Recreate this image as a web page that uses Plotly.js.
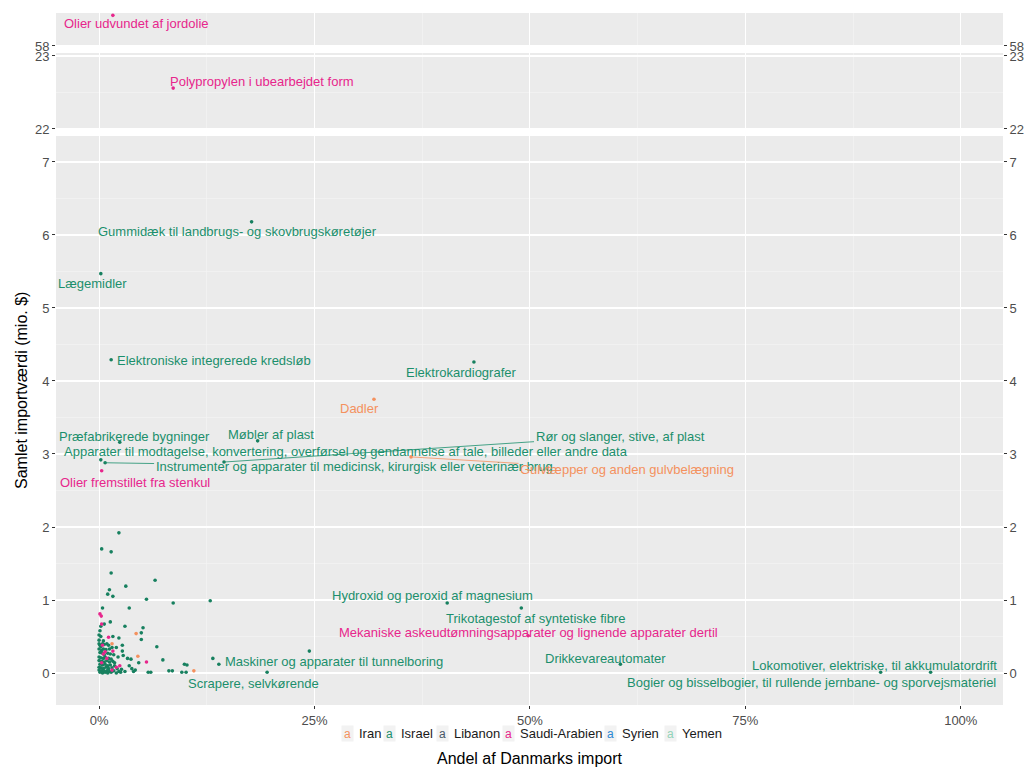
<!DOCTYPE html>
<html><head><meta charset="utf-8">
<script src="https://cdn.plot.ly/plotly-3.0.1.min.js"></script>
<style>html,body{margin:0;padding:0;background:#fff}#chart{width:1024px;height:767px}</style>
</head><body><div id="chart"></div>
<script>
// ---------- DATA ----------
const countries = ["Iran", "Israel", "Libanon", "Saudi-Arabien", "Syrien", "Yemen"];

// labelled products (share of Danish import in %, total import value in mio. $)
const labelNames = [
  "Olier udvundet af jordolie",
  "Polypropylen i ubearbejdet form",
  "Gummidæk til landbrugs- og skovbrugskøretøjer",
  "Lægemidler",
  "Elektroniske integrerede kredsløb",
  "Elektrokardiografer",
  "Dadler",
  "Præfabrikerede bygninger",
  "Møbler af plast",
  "Apparater til modtagelse, konvertering, overførsel og gendannelse af tale, billeder eller andre data",
  "Instrumenter og apparater til medicinsk, kirurgisk eller veterinær brug",
  "Rør og slanger, stive, af plast",
  "Gulvtæpper og anden gulvbelægning",
  "Olier fremstillet fra stenkul",
  "Hydroxid og peroxid af magnesium",
  "Trikotagestof af syntetiske fibre",
  "Mekaniske askeudtømningsapparater og lignende apparater dertil",
  "Maskiner og apparater til tunnelboring",
  "Scrapere, selvkørende",
  "Drikkevareautomater",
  "Lokomotiver, elektriske, til akkumulatordrift",
  "Bogier og bisselbogier, til rullende jernbane- og sporvejsmateriel"
];
const labelCountry = [
  "Saudi-Arabien", "Saudi-Arabien", "Israel", "Israel", "Israel", "Israel", "Iran",
  "Israel", "Israel", "Israel", "Israel", "Israel", "Iran", "Saudi-Arabien",
  "Israel", "Israel", "Saudi-Arabien", "Israel", "Israel", "Israel", "Israel", "Israel"
];
const labelShare = [1.6, 8.6, 17.7, 0.2, 1.4, 43.5, 31.9, 2.4, 18.4, 0.2, 0.7, 14.5, 36.2, 0.3,
  40.4, 49.0, 49.8, 13.9, 19.5, 60.5, 90.7, 96.5];
const labelValue = [58.42, 22.56, 6.18, 5.47, 4.29, 4.26, 3.75, 3.16, 3.18, 2.92, 2.88, 2.89, 2.96, 2.77,
  0.96, 0.89, 0.51, 0.12, 0.01, 0.12, 0.01, 0.01];

// unlabelled products
const iranShare = [4.3, 1.5, 4.5, 11.0];
const iranValue = [0.54, 0.40, 0.23, 0.03];

const saudiShare = [0.1, 0.25, 0.3, 1.1, 1.6, 0.7, 0.5, 5.5, 2.4, 0.3, 1.5, 0.4, 0.9, 2.0];
const saudiValue = [0.81, 0.78, 0.67, 0.49, 0.30, 0.29, 0.26, 0.15, 0.10, 0.14, 0.04, 0.38, 0.20, 0.08];

const israelShare = [
  2.3, 0.3, 1.4, 1.4, 6.5, 3.1, 1.2, 1.0, 1.6, 5.5, 12.9, 8.6, 0.4, 3.5, 1.3, 0.6, 3.0, 5.1, 4.9, 4.9,
  2.3, 1.6, 2.7, 6.7, 2.7, 3.7, 7.4, 4.6, 9.9, 10.2, 3.5, 3.8, 4.2, 5.7, 6.0, 8.1, 8.5, 9.6, 10.1, 24.4,
  13.2, 2.8, 3.3, 2.0, 2.2, 1.8, 4.0, 3.0, 2.6,
  0.0, 0.1, 0.2, 0.4, 0.6, 0.9, 1.1, 0.0, 0.3, 0.5, 0.8, 1.2, 1.5, 0.1, 0.4, 0.6, 1.0, 1.3, 1.7, 0.0,
  0.2, 0.5, 0.7, 1.1, 1.4, 0.0, 0.3, 0.6, 0.9, 1.2, 1.6, 0.1, 0.4, 0.7, 1.0, 1.3, 1.8, 0.0, 0.2, 0.5,
  0.8, 1.1, 1.5, 2.1, 0.0, 0.3, 0.6, 0.9, 1.2, 1.7, 2.3, 0.1, 0.4, 0.7, 1.0, 1.4, 2.0, 2.5, 0.2, 0.0,
  0.5, 0.2, 0.1, 0.0
];
const israelValue = [
  1.92, 1.70, 1.66, 1.37, 1.27, 1.19, 1.14, 1.08, 1.05, 1.01, 0.99, 0.96, 0.89, 0.89, 0.70, 0.67, 0.64, 0.62, 0.55, 0.46,
  0.48, 0.50, 0.38, 0.36, 0.30, 0.19, 0.18, 0.14, 0.12, 0.11, 0.10, 0.06, 0.04, 0.01, 0.01, 0.03, 0.03, 0.01, 0.01, 0.30,
  0.20, 0.24, 0.20, 0.35, 0.22, 0.14, 0.02, 0.02, 0.05,
  0.40, 0.38, 0.36, 0.40, 0.39, 0.40, 0.38, 0.33, 0.31, 0.33, 0.32, 0.33, 0.35, 0.28, 0.27, 0.25, 0.27, 0.26, 0.25, 0.22,
  0.21, 0.20, 0.22, 0.20, 0.19, 0.17, 0.16, 0.15, 0.17, 0.15, 0.16, 0.12, 0.11, 0.12, 0.10, 0.11, 0.10, 0.08, 0.07, 0.06,
  0.08, 0.06, 0.07, 0.06, 0.04, 0.03, 0.02, 0.03, 0.02, 0.03, 0.02, 0.01, 0.00, 0.01, 0.00, 0.01, 0.00, 0.01, 0.50, 0.45,
  0.44, 0.64, 0.58, 0.52
];

const xTickVals = [0, 25, 50, 75, 100];
const xTickText = ["0%", "25%", "50%", "75%", "100%"];

// ---------- STYLE ----------
const colors = {
  "Iran": "#F4915E", "Israel": "#1B8F6C", "Libanon": "#4A5868",
  "Saudi-Arabien": "#E7268C", "Syrien": "#2A88D2", "Yemen": "#93D3B8"
};
const pointColors = {
  "Iran": "#F4915E", "Israel": "#17805F", "Libanon": "#4A5868",
  "Saudi-Arabien": "#E7268C", "Syrien": "#2A88D2", "Yemen": "#93D3B8"
};
const FONT = "Liberation Sans, Arial, sans-serif";

// label offsets (pixels, screen coordinates: dx right, dy down); arrow = draw segment
const labelOffsets = {
  "Olier udvundet af jordolie": [24, 8],
  "Polypropylen i ubearbejdet form": [89, -7],
  "Gummidæk til landbrugs- og skovbrugskøretøjer": [-14, 10],
  "Lægemidler": [-8, 10],
  "Elektroniske integrerede kredsløb": [103, 1],
  "Elektrokardiografer": [-13, 10],
  "Dadler": [-14, 9],
  "Præfabrikerede bygninger": [15, -6],
  "Møbler af plast": [13, -6],
  "Apparater til modtagelse, konvertering, overførsel og gendannelse af tale, billeder eller andre data": [245, -8],
  "Instrumenter og apparater til medicinsk, kirurgisk eller veterinær brug": [249, 4, true],
  "Rør og slanger, stive, af plast": [396, -26, true],
  "Gulvtæpper og anden gulvbelægning": [216, 13, true],
  "Olier fremstillet fra stenkul": [33, 12],
  "Hydroxid og peroxid af magnesium": [-15, -7],
  "Trikotagestof af syntetiske fibre": [14, 10],
  "Mekaniske askeudtømningsapparater og lignende apparater dertil": [0, -3],
  "Maskiner og apparater til tunnelboring": [115, -3],
  "Scrapere, selvkørende": [-14, 11],
  "Drikkevareautomater": [-15, -6],
  "Lokomotiver, elektriske, til akkumulatordrift": [-6, -7],
  "Bogier og bisselbogier, til rullende jernbane- og sporvejsmateriel": [-119, 10]
};

function panelOf(v) { return v > 50 ? "y3" : (v > 10 ? "y2" : "y"); }

// ---------- TRACES ----------
const pointSets = {
  "Iran": [iranShare, iranValue],
  "Israel": [israelShare, israelValue],
  "Saudi-Arabien": [saudiShare, saudiValue]
};
const allPts = {};
countries.forEach(c => { allPts[c] = { x: [], y: [] }; });
Object.keys(pointSets).forEach(c => {
  pointSets[c][0].forEach((x, i) => { allPts[c].x.push(x); allPts[c].y.push(pointSets[c][1][i]); });
});
labelNames.forEach((n, i) => { allPts[labelCountry[i]].x.push(labelShare[i]); allPts[labelCountry[i]].y.push(labelValue[i]); });

const traces = [];
countries.forEach(c => {
  ["y", "y2", "y3"].forEach(p => {
    const xs = [], ys = [];
    allPts[c].x.forEach((x, i) => { if (panelOf(allPts[c].y[i]) === p) { xs.push(x); ys.push(allPts[c].y[i]); } });
    if (xs.length) traces.push({
      type: "scatter", mode: "markers", x: xs, y: ys, xaxis: "x", yaxis: p,
      marker: { color: pointColors[c], size: 3.6 }, showlegend: false, hoverinfo: "x+y", name: c
    });
  });
});
["y4", "y5", "y6"].forEach(a => traces.push({ type: "scatter", mode: "markers", x: [null], y: [null], yaxis: a, showlegend: false, hoverinfo: "skip" }));

// ---------- ANNOTATIONS ----------
const annotations = [];
labelNames.forEach((n, i) => {
  const off = labelOffsets[n];
  const p = panelOf(labelValue[i]);
  const base = {
    x: labelShare[i], y: labelValue[i], xref: "x", yref: p, text: n,
    font: { family: FONT, size: 13, color: colors[labelCountry[i]] }
  };
  if (off[2]) {
    Object.assign(base, { showarrow: true, ax: off[0], ay: off[1], arrowhead: 0, arrowwidth: 0.8,
      arrowcolor: colors[labelCountry[i]], standoff: 0, startstandoff: 0 });
  } else {
    Object.assign(base, { showarrow: false, xshift: off[0], yshift: -off[1] });
  }
  annotations.push(base);
});

// axis titles
annotations.push({ xref: "paper", yref: "paper", x: 0.5, y: -0.0766, text: "Andel af Danmarks import",
  showarrow: false, font: { family: FONT, size: 16, color: "#000" }, yanchor: "middle" });
annotations.push({ xref: "paper", yref: "paper", x: -0.0359, y: 0.4538, text: "Samlet importværdi (mio. $)",
  showarrow: false, textangle: -90, font: { family: FONT, size: 16, color: "#000" }, xanchor: "center", yanchor: "middle" });

// legend (pixel positions of key boxes)
const legendKeyPx = [347, 389, 442, 508, 610, 670];
const legendY = (705 - 733) / 692;
countries.forEach((c, i) => {
  const kx = (legendKeyPx[i] - 56) / 947;
  annotations.push({ xref: "paper", yref: "paper", x: kx, y: legendY, text: "a", showarrow: false,
    width: 11, height: 15, bgcolor: "#F2F2F2", borderpad: 0,
    font: { family: FONT, size: 12, color: colors[c] }, xanchor: "center", yanchor: "middle" });
  annotations.push({ xref: "paper", yref: "paper", x: (legendKeyPx[i] + 10 - 56) / 947, y: legendY, text: c,
    showarrow: false, font: { family: FONT, size: 13, color: "#1a1a1a" }, xanchor: "left", yanchor: "middle" });
});

// ---------- LAYOUT ----------
const gridMinor = (dt) => ({ dtick: dt, showgrid: true, gridcolor: "#F5F5F5", gridwidth: 0.6 });
const yBase = {
  anchor: "x", showgrid: true, gridcolor: "#FFFFFF", gridwidth: 1.1, zeroline: false,
  ticks: "outside", ticklen: 3, tickcolor: "#333", tickwidth: 1, dtick: 1,
  tickfont: { family: FONT, size: 13, color: "#4D4D4D" }, showline: false
};
const bottomRange = [-0.438, 7.356], midRange = [21.986, 23.041], topRange = [57.986, 58.452];
const dBottom = [0, 0.8223], dMid = [0.8309, 0.9422], dTop = [0.9509, 1];

const layout = {
  width: 1024, height: 767,
  margin: { l: 56, r: 21, t: 13, b: 62 },
  paper_bgcolor: "#FFFFFF", plot_bgcolor: "#EBEBEB",
  showlegend: false,
  xaxis: {
    domain: [0, 1], anchor: "y", range: [-5, 104.9], tickmode: "array", tickvals: xTickVals, ticktext: xTickText,
    showgrid: true, gridcolor: "#FFFFFF", gridwidth: 1.1, zeroline: false,
    ticks: "outside", ticklen: 3, tickcolor: "#333",
    tickfont: { family: FONT, size: 13, color: "#4D4D4D" },
    minor: { tickmode: "array", tickvals: [12.5, 37.5, 62.5, 87.5], showgrid: true, gridcolor: "#F5F5F5", gridwidth: 0.6 }
  },
  yaxis: Object.assign({}, yBase, { domain: dBottom, range: bottomRange, minor: gridMinor(0.5) }),
  yaxis2: Object.assign({}, yBase, { domain: dMid, range: midRange, minor: gridMinor(0.5) }),
  yaxis3: Object.assign({}, yBase, { domain: dTop, range: topRange }),
  yaxis4: Object.assign({}, yBase, { overlaying: "y", side: "right", range: bottomRange, showgrid: false }),
  yaxis5: Object.assign({}, yBase, { overlaying: "y2", side: "right", range: midRange, showgrid: false }),
  yaxis6: Object.assign({}, yBase, { overlaying: "y3", side: "right", range: topRange, showgrid: false }),
  annotations: annotations,
  font: { family: FONT }
};

Plotly.newPlot("chart", traces, layout, { displayModeBar: false, staticPlot: true });
</script>
</body></html>
